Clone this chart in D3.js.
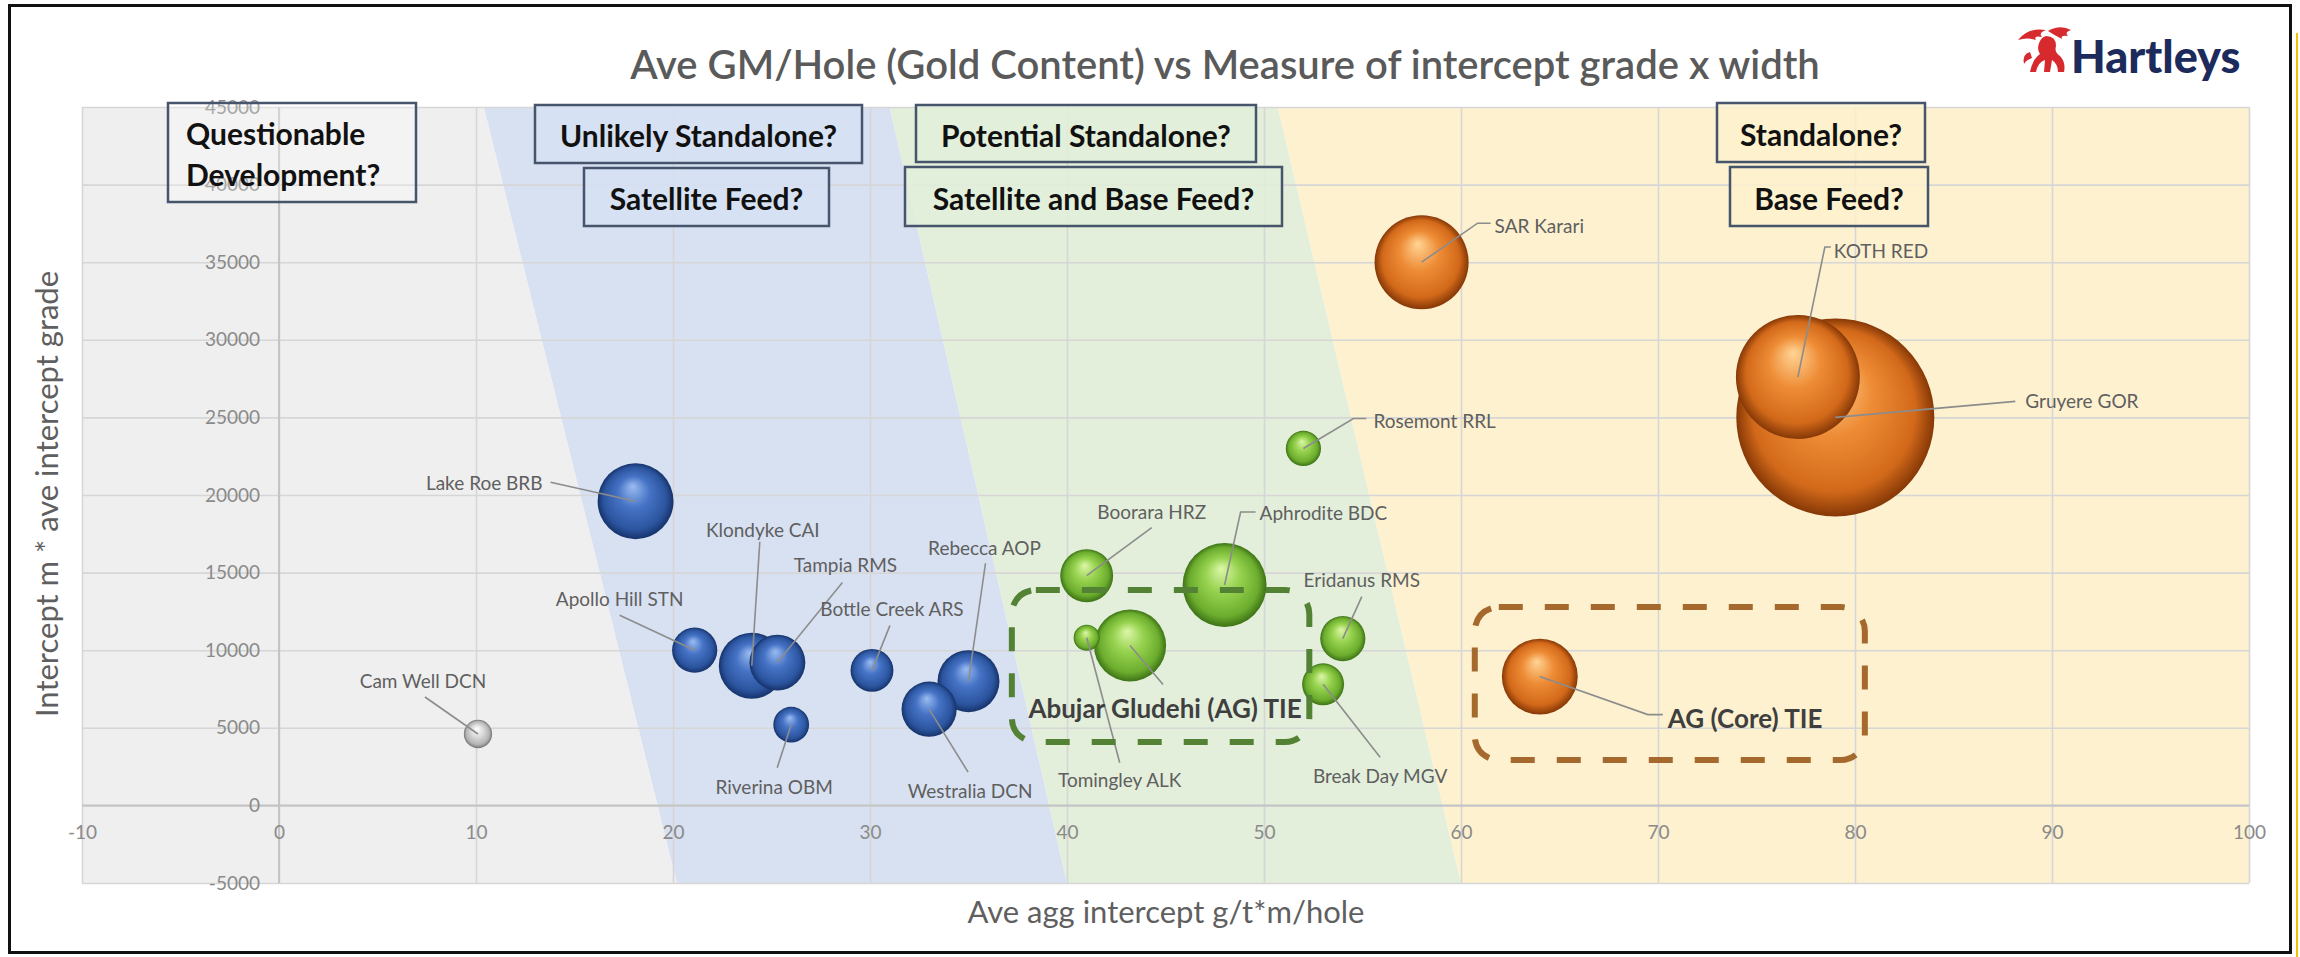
<!DOCTYPE html>
<html><head><meta charset="utf-8">
<script src="https://cdn.jsdelivr.net/npm/d3@7"></script>
<style>
html,body{margin:0;padding:0;background:#fff;}
svg{display:block;}
</style></head>
<body><svg id="chart" width="2300" height="957"></svg>
<script>
// ---------------- DATA ----------------
const names = ["Cam Well DCN","Lake Roe BRB","Apollo Hill STN","Klondyke CAI","Tampia RMS","Riverina OBM","Bottle Creek ARS","Westralia DCN","Rebecca AOP","Boorara HRZ","Aphrodite BDC","Tomingley ALK","Abujar Gludehi (AG) TIE","Rosemont RRL","Eridanus RMS","Break Day MGV","SAR Karari","KOTH RED","Gruyere GOR","AG (Core) TIE"];
const xValues = [10.1, 18.1, 21.1, 24.0, 25.3, 26.0, 30.1, 33.0, 35.0, 41.0, 48.0, 41.0, 43.2, 52.0, 54.0, 53.0, 58.0, 77.1, 79.0, 64.0];
const yValues = [4600, 19600, 10000, 9000, 9200, 5200, 8700, 6200, 8000, 14800, 14200, 10800, 10300, 23000, 10750, 7800, 35000, 27600, 25000, 8300];
const sizes   = [2.0, 14.4, 5.1, 10.9, 7.8, 3.2, 4.6, 7.6, 9.6, 7.0, 17.6, 1.7, 13.0, 3.1, 5.1, 4.4, 22.1, 38.4, 98.0, 14.4];
const groups  = ["silver","blue","blue","blue","blue","blue","blue","blue","blue","green","green","green","green","green","green","green","orange","orange","orange","orange"];
const xTicks = [-10,0,10,20,30,40,50,60,70,80,90,100];
const yTicks = [-5000,0,5000,10000,15000,20000,25000,30000,35000,40000,45000];
// zone boundaries (x value at top y=45000 and at bottom y=-5000)
const zoneEdgeTop    = [10.4, 31.0, 50.7];
const zoneEdgeBottom = [20.2, 40.0, 60.0];
// dashed group outlines in data units [x0, x1, yTop, yBottom]
const groupOutlines = [
  {name:"AG TIE", ext:[37.2, 52.3, 13880, 4085], color:"#548235"},
  {name:"AG Core", ext:[60.7, 80.5, 12780, 2925], color:"#a5692d"}
];
const chartTitle = "Ave GM/Hole (Gold Content) vs Measure of intercept grade x width";
const xTitle = "Ave agg intercept g/t*m/hole";
const yTitle = "Intercept m * ave intercept grade";

// ---------------- LAYOUT ----------------
const W = 2300, H = 957;
const x = d3.scaleLinear().domain([-10,100]).range([82,2249]);
const y = d3.scaleLinear().domain([-5000,45000]).range([883,107]);
const r = d3.scaleSqrt().domain([0,98]).range([0,99]);

// label offsets relative to bubble centre (px)
const labelLayout = [
  {dx:-55, dy:-54, a:"middle", L:[[-53,-37]]},
  {dx:-93, dy:-19, a:"end",    L:[[-85,-19]]},
  {dx:-75, dy:-52, a:"middle", L:[[-75,-35]]},
  {dx:11,  dy:-136,a:"middle", L:[[8,-124]]},
  {dx:68,  dy:-98, a:"middle", L:[[65,-80]]},
  {dx:-17, dy:62,  a:"middle", L:[[-14,43]]},
  {dx:20,  dy:-62, a:"middle", L:[[18,-45]]},
  {dx:41,  dy:81,  a:"middle", L:[[39,63]]},
  {dx:16,  dy:-134,a:"middle", L:[[17,-118]]},
  {dx:65,  dy:-64, a:"middle", L:[[65,-48]]},
  {dx:35,  dy:-73, a:"start",  L:[[16,-73],[31,-73]]},
  {dx:33,  dy:142, a:"middle", L:[[33,125]]},
  {dx:35,  dy:62,  a:"middle", L:[[33,39]], bold:true},
  {dx:70,  dy:-28, a:"start",  L:[[50,-30],[63,-30]]},
  {dx:19,  dy:-59, a:"middle", L:[[19,-42]]},
  {dx:57,  dy:91,  a:"middle", L:[[57,73]]},
  {dx:73,  dy:-37, a:"start",  L:[[56,-39],[69,-39]]},
  {dx:36,  dy:-127,a:"start",  L:[[27,-130],[33,-130]]},
  {dx:190, dy:-17, a:"start",  L:[[180,-16]]},
  {dx:128, dy:41,  a:"start",  L:[[108,38],[123,38]], bold:true}
];

const boxes = [
  {lines:["Questionable","Development?"], b:[168,103,416,202], fill:"rgba(255,255,255,0.25)", align:"start", ly:[133,174]},
  {lines:["Unlikely Standalone?"], b:[535,105,862,163], fill:"rgba(214,224,243,0.85)"},
  {lines:["Satellite Feed?"], b:[584,168,829,226], fill:"rgba(214,224,243,0.85)"},
  {lines:["Potential Standalone?"], b:[916,105,1256,162], fill:"rgba(226,239,217,0.85)"},
  {lines:["Satellite and Base Feed?"], b:[905,167,1282,226], fill:"rgba(226,239,217,0.85)"},
  {lines:["Standalone?"], b:[1717,103,1925,162], fill:"rgba(253,241,206,0.85)"},
  {lines:["Base Feed?"], b:[1730,167,1928,226], fill:"rgba(253,241,206,0.85)"}
];

const zoneColors = ["#efefef","#d8e1f1","#e3eedb","#fdf1d0"];
const palette = {
  blue:  {hi:"#9bbcf0", mid:"#4673c6", dark:"#2c559f", edge:"#16336b"},
  green: {hi:"#dcf7a8", mid:"#96d24e", dark:"#6cad2e", edge:"#3d7316"},
  orange:{hi:"#ffd595", mid:"#ee8c36", dark:"#d2691a", edge:"#863806"},
  silver:{hi:"#ffffff", mid:"#dcdcdc", dark:"#b3b3b3", edge:"#767676"}
};
const FONT = "Lato, 'Open Sans', 'Liberation Sans', sans-serif";
const fmt = d => String(d);

// ---------------- DRAW ----------------
const svg = d3.select("#chart").attr("font-family", FONT);
svg.append("rect").attr("width",W).attr("height",H).attr("fill","#fff");
const defs = svg.append("defs");
Object.entries(palette).forEach(([k,c])=>{
  const g = defs.append("radialGradient").attr("id","grad-"+k)
    .attr("cx","50%").attr("cy","50%").attr("r","50%").attr("fx","46%").attr("fy","30%");
  g.append("stop").attr("offset","0%").attr("stop-color",c.hi);
  g.append("stop").attr("offset","42%").attr("stop-color",c.mid);
  g.append("stop").attr("offset","82%").attr("stop-color",c.dark);
  g.append("stop").attr("offset","100%").attr("stop-color",c.edge);
});

// zones
const lefts  = [[-10,-10]].concat(zoneEdgeTop.map((t,i)=>[t,zoneEdgeBottom[i]]));
const rights = zoneEdgeTop.map((t,i)=>[t,zoneEdgeBottom[i]]).concat([[100,100]]);
const yTop = d3.max(yTicks), yBot = d3.min(yTicks);
svg.append("g").selectAll("polygon").data(zoneColors).join("polygon")
  .attr("points",(c,i)=>[[x(lefts[i][0]),y(yTop)],[x(rights[i][0]),y(yTop)],[x(rights[i][1]),y(yBot)],[x(lefts[i][1]),y(yBot)]].map(p=>p.join(",")).join(" "))
  .attr("fill",c=>c);

// gridlines
const gx = svg.append("g").attr("transform",`translate(0,${y(yBot)})`)
  .call(d3.axisBottom(x).tickValues(xTicks).tickSize(-(y(yBot)-y(yTop))).tickFormat(""));
const gy = svg.append("g").attr("transform",`translate(${x(-10)},0)`)
  .call(d3.axisLeft(y).tickValues(yTicks).tickSize(-(x(100)-x(-10))).tickFormat(""));
[gx,gy].forEach(g=>{g.select(".domain").remove(); g.selectAll("line").attr("stroke","#d6d6d6").attr("stroke-width",1.6);});

// axis lines through zero
svg.append("line").attr("x1",x(-10)).attr("x2",x(100)).attr("y1",y(0)).attr("y2",y(0)).attr("stroke","#c4c4c4").attr("stroke-width",2);
svg.append("line").attr("x1",x(0)).attr("x2",x(0)).attr("y1",y(yTop)).attr("y2",y(yBot)).attr("stroke","#c4c4c4").attr("stroke-width",2);

// tick labels
const ax = svg.append("g").attr("transform",`translate(0,${y(0)})`)
  .call(d3.axisBottom(x).tickValues(xTicks).tickSize(0).tickPadding(20).tickFormat(fmt));
const ay = svg.append("g").attr("transform",`translate(${x(0)},0)`)
  .call(d3.axisLeft(y).tickValues(yTicks).tickSize(0).tickPadding(19).tickFormat(fmt));
[ax,ay].forEach(g=>{g.select(".domain").remove(); g.selectAll("text").attr("font-family",FONT).attr("font-size",19).attr("fill","#8a8a8a");});

// bubbles
const bubbles = names.map((n,i)=>({name:n, x:xValues[i], y:yValues[i], size:sizes[i], group:groups[i], i}));
const order = bubbles.slice().sort((a,b)=>b.size-a.size);
svg.append("g").selectAll("circle").data(order).join("circle")
  .attr("cx",d=>x(d.x)).attr("cy",d=>y(d.y)).attr("r",d=>r(d.size))
  .attr("fill",d=>`url(#grad-${d.group})`);

// leader lines
svg.append("g").selectAll("path").data(bubbles).join("path")
  .attr("d",d=>{const cx=x(d.x), cy=y(d.y); return "M"+cx+","+cy+labelLayout[d.i].L.map(p=>"L"+(cx+p[0])+","+(cy+p[1])).join("");})
  .attr("fill","none").attr("stroke","#8c8c8c").attr("stroke-width",1.6);

// dashed outlines
svg.append("g").selectAll("rect").data(groupOutlines).join("rect")
  .attr("x",d=>x(d.ext[0])).attr("y",d=>y(d.ext[2]))
  .attr("width",d=>x(d.ext[1])-x(d.ext[0])).attr("height",d=>y(d.ext[3])-y(d.ext[2]))
  .attr("rx",24).attr("fill","none").attr("stroke",d=>d.color).attr("stroke-width",6)
  .attr("stroke-dasharray","24 22");

// bubble labels
svg.append("g").selectAll("text").data(bubbles).join("text")
  .attr("x",d=>x(d.x)+labelLayout[d.i].dx).attr("y",d=>y(d.y)+labelLayout[d.i].dy)
  .attr("text-anchor",d=>labelLayout[d.i].a).attr("dominant-baseline","central")
  .attr("font-size",d=>labelLayout[d.i].bold?26:19)
  .attr("font-weight",d=>labelLayout[d.i].bold?700:400)
  .attr("fill",d=>labelLayout[d.i].bold?"#3f3f3f":"#5f5f5f")
  .text(d=>d.name);

// annotation boxes
const bg = svg.append("g").selectAll("g").data(boxes).join("g");
bg.append("rect").attr("x",d=>d.b[0]).attr("y",d=>d.b[1]).attr("width",d=>d.b[2]-d.b[0]).attr("height",d=>d.b[3]-d.b[1])
  .attr("fill",d=>d.fill).attr("stroke","#46556b").attr("stroke-width",2.5);
bg.each(function(d){
  const g = d3.select(this);
  const n = d.lines.length, h = d.b[3]-d.b[1];
  d.lines.forEach((t,k)=>{
    g.append("text")
      .attr("x", d.align==="start" ? d.b[0]+18 : (d.b[0]+d.b[2])/2)
      .attr("y", d.ly ? d.ly[k] : d.b[1] + h*(k+0.5)/n + 1)
      .attr("text-anchor", d.align==="start"?"start":"middle")
      .attr("dominant-baseline","central")
      .attr("font-size",30).attr("font-weight",700).attr("fill","#111")
      .text(t);
  });
});

// titles
svg.append("text").attr("x",1225).attr("y",64).attr("text-anchor","middle").attr("dominant-baseline","central")
  .attr("font-size",40).attr("font-weight",600).attr("fill","#5a5a5a").text(chartTitle);
svg.append("text").attr("x",1166).attr("y",911).attr("text-anchor","middle").attr("dominant-baseline","central")
  .attr("font-size",31).attr("fill","#5f5f5f").text(xTitle);
svg.append("text").attr("transform","translate(46,494) rotate(-90)").attr("text-anchor","middle").attr("dominant-baseline","central")
  .attr("font-size",31).attr("fill","#5f5f5f").text(yTitle);

// logo
const logo = svg.append("g").attr("fill","#d62a2f");
logo.append("path").attr("d","M2018,40 Q2028,27 2046,30 Q2038,33 2042,37 Q2033,35 2036,40 Q2027,37 2018,40Z");
logo.append("path").attr("d","M2048,31 Q2060,24 2071,30 Q2064,32 2068,36 Q2060,35 2062,39 Q2054,35 2048,31Z");
logo.append("path").attr("d","M2046,36 Q2056,36 2056,46 Q2054,52 2060,56 Q2066,62 2064,72 L2058,72 Q2058,64 2052,60 L2050,72 L2044,72 L2045,60 Q2038,62 2036,72 L2030,72 Q2032,60 2040,54 Q2036,48 2040,41 Q2042,37 2046,36Z");
logo.append("path").attr("d","M2030,52 Q2022,54 2024,64 Q2026,60 2032,58Z");
svg.append("text").attr("x",2071).attr("y",73).attr("font-size",45).attr("font-weight",900)
  .attr("fill","#1c2a5c").text("Hartleys");

// frame
svg.append("rect").attr("x",9.5).attr("y",5.5).attr("width",2281).attr("height",947)
  .attr("fill","none").attr("stroke","#111").attr("stroke-width",3);
svg.append("line").attr("x1",2297).attr("x2",2297).attr("y1",33).attr("y2",957).attr("stroke","#f2c200").attr("stroke-width",2);
</script>
</body></html>
